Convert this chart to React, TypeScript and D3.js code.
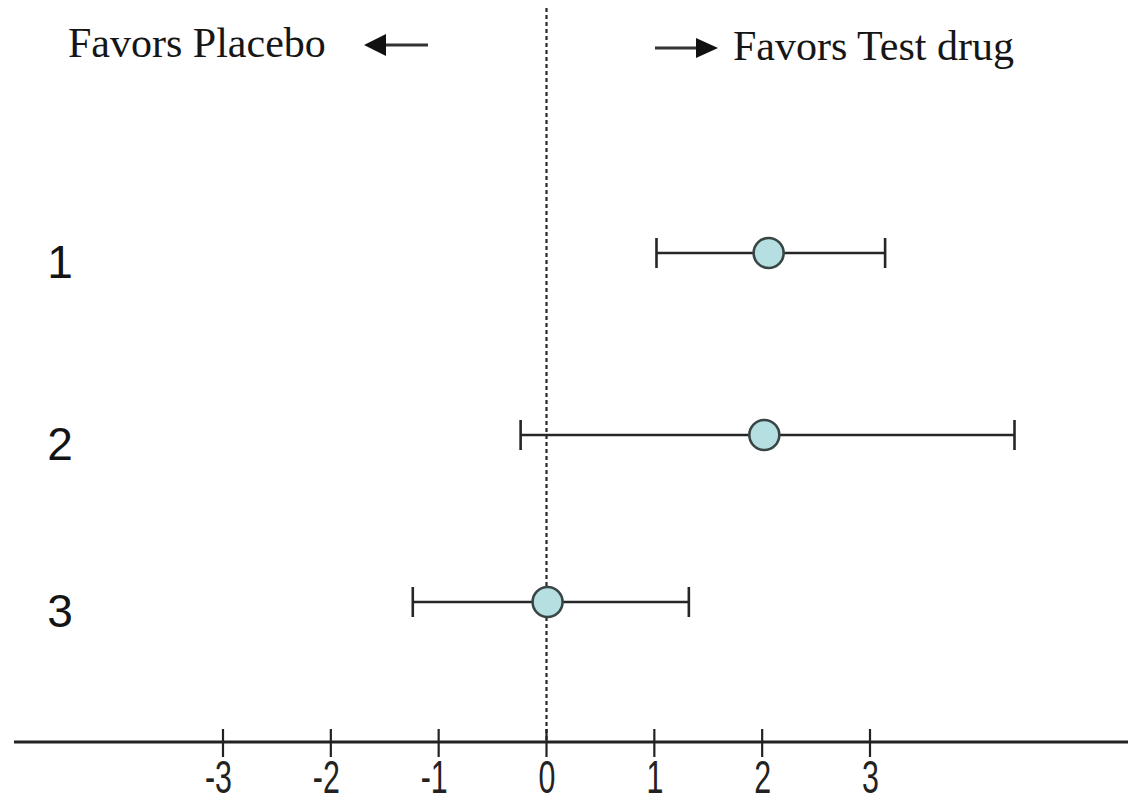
import React from "react";
import * as d3 from "d3";

const studies = ["1", "2", "3"];
const estimates = [2.06, 2.02, 0.01];
const lowerCI = [1.02, -0.24, -1.24];
const upperCI = [3.14, 4.34, 1.32];
const tickValues = [-3, -2, -1, 0, 1, 2, 3];

const W = 1128;
const H = 802;

export default function App() {
  const x = d3.scaleLinear().domain([-3, 3]).range([223, 870]);
  const y = d3.scaleOrdinal<string, number>().domain(studies).range([253, 435, 602]);
  const axisY = 742;
  const x0 = x(0);
  const ink = "#262626";

  return (
    <svg
      width={W}
      height={H}
      style={{ position: "absolute", left: 0, top: 0, background: "#fff" }}
    >
      {/* headers */}
      <text x={68} y={57} fontFamily="'Liberation Serif', 'Times New Roman', serif" fontSize={42} fill="#161616">
        Favors Placebo
      </text>
      <text x={733} y={60} fontFamily="'Liberation Serif', 'Times New Roman', serif" fontSize={42} fill="#161616">
        Favors Test drug
      </text>
      {/* arrows */}
      <line x1={428} y1={45} x2={384} y2={45} stroke="#333" strokeWidth={3} />
      <path d="M364,45 L386,34 L386,56 Z" fill="#111" />
      <line x1={655} y1={48} x2={698} y2={48} stroke="#333" strokeWidth={3} />
      <path d="M718,48 L696,38 L696,58 Z" fill="#111" />

      {/* zero reference line */}
      <line x1={x0} x2={x0} y1={8} y2={axisY} stroke="#2a2a2a" strokeWidth={2.2} strokeDasharray="4,3" />

      {/* axis */}
      <line x1={14} x2={W} y1={axisY} y2={axisY} stroke="#222" strokeWidth={3} />
      {tickValues.map((t) => (
        <g key={t}>
          <line x1={x(t)} x2={x(t)} y1={axisY - 13} y2={axisY + 15} stroke="#222" strokeWidth={2.2} />
          <g transform={`translate(${x(t) + 9},${793}) scale(0.66,1)`}>
            <text
              x={0}
              y={0}
              textAnchor="end"
              fontFamily="'Liberation Sans', Arial, sans-serif"
              fontSize={46}
              fill="#222"
            >
              {String(t)}
            </text>
          </g>
        </g>
      ))}

      {/* study labels */}
      {studies.map((s) => (
        <text
          key={"l" + s}
          x={60}
          y={(y(s) as number) + 25}
          textAnchor="middle"
          fontFamily="'Liberation Sans', Arial, sans-serif"
          fontSize={46}
          fill="#141414"
        >
          {s}
        </text>
      ))}

      {/* error bars */}
      {studies.map((s, i) => {
        const cy = y(s) as number;
        return (
          <g key={"e" + s}>
            <line x1={x(lowerCI[i])} x2={x(upperCI[i])} y1={cy} y2={cy} stroke={ink} strokeWidth={2.6} />
            <line x1={x(lowerCI[i])} x2={x(lowerCI[i])} y1={cy - 15} y2={cy + 15} stroke={ink} strokeWidth={2.6} />
            <line x1={x(upperCI[i])} x2={x(upperCI[i])} y1={cy - 15} y2={cy + 15} stroke={ink} strokeWidth={2.6} />
            <circle cx={x(estimates[i])} cy={cy} r={15} fill="#b5dfe0" stroke="#3a4646" strokeWidth={2.6} />
          </g>
        );
      })}
    </svg>
  );
}
